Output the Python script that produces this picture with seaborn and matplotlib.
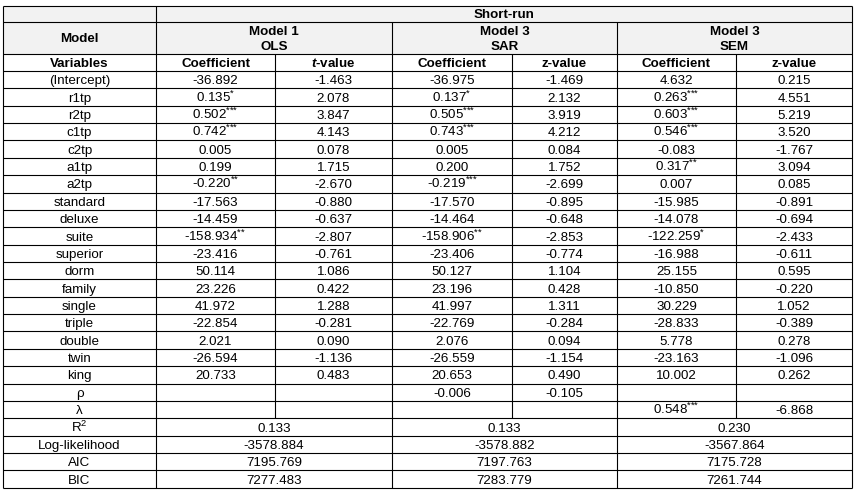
import numpy as np
import matplotlib
matplotlib.use("Agg")
import matplotlib.pyplot as plt
import seaborn as sns

nan = np.nan

# table contents
variables = ["(Intercept)", "r1tp", "r2tp", "c1tp", "c2tp", "a1tp", "a2tp",
             "standard", "deluxe", "suite", "superior", "dorm", "family",
             "single", "triple", "double", "twin", "king", "ρ", "λ"]

ols_coef = [-36.892, 0.135, 0.502, 0.742, 0.005, 0.199, -0.220, -17.563, -14.459,
            -158.934, -23.416, 50.114, 23.226, 41.972, -22.854, 2.021, -26.594,
            20.733, nan, nan]
ols_stars = ["", "*", "***", "***", "", "", "**", "", "", "**", "", "", "", "",
             "", "", "", "", "", ""]
ols_t = [-1.463, 2.078, 3.847, 4.143, 0.078, 1.715, -2.670, -0.880, -0.637, -2.807,
         -0.761, 1.086, 0.422, 1.288, -0.281, 0.090, -1.136, 0.483, nan, nan]

sar_coef = [-36.975, 0.137, 0.505, 0.743, 0.005, 0.200, -0.219, -17.570, -14.464,
            -158.906, -23.406, 50.127, 23.196, 41.997, -22.769, 2.076, -26.559,
            20.653, -0.006, nan]
sar_stars = ["", "*", "***", "***", "", "", "***", "", "", "**", "", "", "", "",
             "", "", "", "", "", ""]
sar_z = [-1.469, 2.132, 3.919, 4.212, 0.084, 1.752, -2.699, -0.895, -0.648, -2.853,
         -0.774, 1.104, 0.428, 1.311, -0.284, 0.094, -1.154, 0.490, -0.105, nan]

sem_coef = [4.632, 0.263, 0.603, 0.546, -0.083, 0.317, 0.007, -15.985, -14.078,
            -122.259, -16.988, 25.155, -10.850, 30.229, -28.833, 5.778, -23.163,
            10.002, nan, 0.548]
sem_stars = ["", "***", "***", "***", "", "**", "", "", "", "*", "", "", "", "",
             "", "", "", "", "", "***"]
sem_z = [0.215, 4.551, 5.219, 3.520, -1.767, 3.094, 0.085, -0.891, -0.694, -2.433,
         -0.611, 0.595, -0.220, 1.052, -0.389, 0.278, -1.096, 0.262, nan, -6.868]

fit_labels = ["R$^{2}$", "Log-likelihood", "AIC", "BIC"]
ols_fit = [0.133, -3578.884, 7195.769, 7277.483]
sar_fit = [0.133, -3578.882, 7197.763, 7283.779]
sem_fit = [0.230, -3567.864, 7175.728, 7261.744]

sns.set_theme(style="white")
plt.rcParams["font.family"] = ["Liberation Sans", "DejaVu Sans"]
plt.rcParams["mathtext.fontset"] = "custom"
plt.rcParams["mathtext.rm"] = "Liberation Sans"
plt.rcParams["mathtext.it"] = "Liberation Sans:italic:bold"
plt.rcParams["mathtext.bf"] = "Liberation Sans:bold"
plt.rcParams["mathtext.default"] = "regular"

fig = plt.figure(figsize=(8.61, 4.93), dpi=100)
ax = fig.add_axes([0, 0, 1, 1])
ax.set_xlim(0, 861)
ax.set_ylim(493, 0)
ax.axis("off")

# grid geometry (pixel space)
cx = [3, 156, 275, 392, 512, 617, 736, 852]
y0, y1, y2, y3 = 5.5, 22, 53.5, 71
n_rows = len(variables) + len(fit_labels)
rh = (487.7 - y3) / n_rows
ybot = y3 + n_rows * rh
y_split = y3 + len(variables) * rh

fs = 9.6
lw = 0.8

def mid(a, b):
    return (a + b) / 2

def put(x, yc, s, bold=False):
    ax.text(x, yc + 4.6, s, ha="center", va="baseline", fontsize=fs,
            fontweight="bold" if bold else "normal", color="black")

def fmt(v, st=""):
    if np.isnan(v):
        return None
    s = f"{v:.3f}"
    if st:
        s += "$^{\\text{" + st + "}}$"
    return s

# header shading
ax.fill_between([cx[0], cx[-1]], y0, y2, color="#f2f2f2", lw=0, zorder=0)

# horizontal lines
ys = [y0, y1, y2] + [y3 + i * rh for i in range(n_rows + 1)]
ax.hlines(ys, cx[0], cx[-1], color="black", lw=lw)
# vertical lines
ax.vlines([cx[0], cx[1], cx[-1]], y0, ybot, color="black", lw=lw)
ax.vlines([cx[3], cx[5]], y1, ybot, color="black", lw=lw)
ax.vlines([cx[2], cx[4], cx[6]], y2, y_split, color="black", lw=lw)

# header text
put(mid(cx[1], cx[-1]), mid(y0, y1), "Short-run", bold=True)
put(mid(cx[0], cx[1]), mid(y1, y2), "Model", bold=True)
for (a, b), l1, l2 in zip([(1, 3), (3, 5), (5, 7)],
                          ["Model 1", "Model 3", "Model 3"], ["OLS", "SAR", "SEM"]):
    put(mid(cx[a], cx[b]), 30.5, l1, bold=True)
    put(mid(cx[a], cx[b]), 45.0, l2, bold=True)

heads = ["Variables", "Coefficient", "$\\mathit{t}$-value", "Coefficient",
         "z-value", "Coefficient", "z-value"]
for j, h in enumerate(heads):
    put(mid(cx[j], cx[j + 1]), mid(y2, y3), h, bold=True)

# body
cols = [(ols_coef, ols_stars), (ols_t, None), (sar_coef, sar_stars), (sar_z, None),
        (sem_coef, sem_stars), (sem_z, None)]
for i, var in enumerate(variables):
    yc = y3 + (i + 0.5) * rh
    put(mid(cx[0], cx[1]), yc, var)
    for j, (vals, stars) in enumerate(cols):
        s = fmt(vals[i], stars[i] if stars else "")
        if s:
            put(mid(cx[j + 1], cx[j + 2]), yc, s)

for k, lab in enumerate(fit_labels):
    yc = y_split + (k + 0.5) * rh
    put(mid(cx[0], cx[1]), yc, lab)
    for (a, b), vals in zip([(1, 3), (3, 5), (5, 7)], [ols_fit, sar_fit, sem_fit]):
        put(mid(cx[a], cx[b]), yc, f"{vals[k]:.3f}")

fig.savefig("out.png", dpi=100, facecolor="white")
